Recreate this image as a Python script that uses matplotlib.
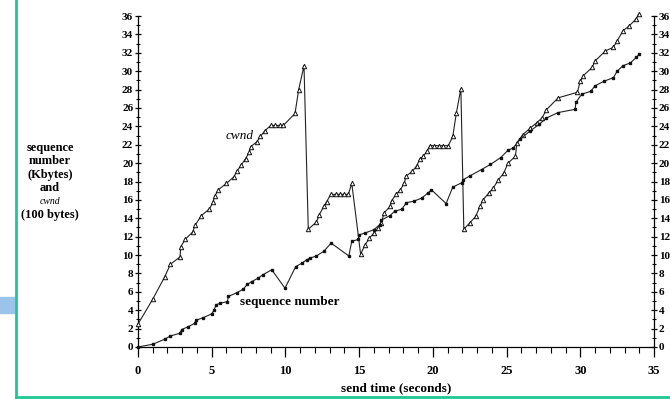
import matplotlib.pyplot as plt
from matplotlib.ticker import MultipleLocator
from matplotlib.lines import Line2D
from matplotlib.patches import Rectangle

# cwnd trace (100 bytes)
cwnd_t = [0, 1.0, 1.8, 2.2, 2.85, 2.9, 3.2, 3.7, 3.9, 4.3, 4.84, 5.1, 5.2, 5.45,
          6.0, 6.5, 6.7, 7.0, 7.3, 7.55, 7.65, 8.05, 8.3, 8.6, 9.0, 9.3, 9.6, 9.86,
          10.65, 10.9, 11.26, 11.55, 12.1, 12.3, 12.6, 12.8, 13.07, 13.4, 13.7, 14.0,
          14.27, 14.5, 15.1, 15.4, 15.7, 16.0, 16.3, 16.5, 16.7, 17.1, 17.2, 17.5,
          17.8, 18.05, 18.2, 18.6, 18.9, 19.1, 19.35, 19.6, 19.8, 20.1, 20.4, 20.7,
          21.05, 21.35, 21.6, 21.9, 22.1, 22.5, 22.9, 23.2, 23.4, 23.8, 24.1, 24.45,
          24.8, 25.1, 25.6, 25.7, 26.1, 26.6, 27.05, 27.4, 27.7, 28.5, 29.8, 30.0,
          30.2, 30.8, 31.0, 31.7, 32.25, 32.5, 32.9, 33.3, 33.8, 33.95]
cwnd_v = [2.5, 5.2, 7.6, 9.0, 9.8, 10.9, 11.7, 12.5, 13.3, 14.3, 15.0, 15.8, 16.4, 17.1,
          17.8, 18.5, 19.1, 19.8, 20.5, 21.2, 21.8, 22.3, 22.9, 23.5, 24.1, 24.1, 24.1, 24.1,
          25.4, 28.0, 30.6, 12.8, 13.6, 14.4, 15.3, 15.8, 16.6, 16.6, 16.6, 16.6,
          16.6, 17.8, 10.1, 11.1, 11.85, 12.4, 12.9, 13.5, 14.6, 15.3, 15.9, 16.6,
          17.1, 17.8, 18.6, 19.1, 19.7, 20.4, 20.75, 21.3, 21.9, 21.9, 21.9, 21.9,
          21.9, 22.9, 25.5, 28.1, 12.8, 13.5, 14.2, 15.3, 16.0, 16.75, 17.3, 18.2,
          18.9, 20.0, 20.75, 22.2, 23.1, 23.8, 24.4, 24.9, 25.8, 27.1, 27.7, 28.9,
          29.5, 30.4, 31.1, 32.2, 32.6, 33.3, 34.4, 34.9, 35.7, 36.2]

# sequence number (Kbytes)
seq_t = [0, 1.0, 1.8, 2.2, 2.85, 2.96, 3.4, 3.87, 3.93, 4.43, 5.0, 5.15, 5.3, 5.56,
         6.06, 6.13, 6.7, 7.15, 7.4, 7.7, 8.16, 8.46, 9.07, 9.97, 10.7, 11.1, 11.45,
         11.67, 12.1, 12.6, 13.1, 14.3, 14.5, 14.95, 15.0, 15.4, 16.0, 16.4, 16.5,
         17.1, 17.4, 17.9, 18.2, 18.7, 19.25, 19.7, 19.9, 20.9, 21.35, 21.95, 22.07,
         22.5, 23.3, 23.9, 24.6, 25.1, 25.45, 25.9, 26.6, 27.2, 27.7, 28.5, 29.65,
         29.7, 30.1, 30.7, 31.0, 31.6, 32.25, 32.5, 32.9, 33.4, 33.8, 34.0]
seq_v = [0, 0.3, 0.84, 1.2, 1.5, 1.9, 2.2, 2.6, 2.9, 3.2, 3.6, 4.0, 4.6, 4.75,
         4.94, 5.5, 5.9, 6.3, 6.8, 7.1, 7.5, 7.85, 8.4, 6.4, 8.75, 9.1, 9.5,
         9.67, 9.9, 10.4, 11.3, 9.9, 11.5, 11.7, 12.2, 12.4, 12.76, 13.3, 13.8,
         14.3, 14.75, 15.0, 15.7, 15.85, 16.2, 16.8, 17.1, 15.6, 17.4, 17.85, 18.2,
         18.6, 19.3, 19.85, 20.6, 21.4, 21.65, 22.6, 23.5, 24.2, 24.9, 25.5, 25.85,
         26.6, 27.5, 27.8, 28.4, 28.9, 29.3, 30.0, 30.6, 30.9, 31.5, 31.85]

ylabel_lines = ['sequence', 'number', '(Kbytes)', 'and', 'cwnd', '(100 bytes)']

plt.rcParams['font.family'] = ['Liberation Serif', 'DejaVu Serif']

fig = plt.figure(figsize=(6.7, 3.99), dpi=100)
ax = fig.add_axes([138 / 670, 52 / 399, 516 / 670, 331 / 399])

ax.plot(cwnd_t, cwnd_v, color='#222222', lw=0.8, marker='^', ms=3.2,
        mfc='white', mec='#111111', mew=0.7, clip_on=False, zorder=3)
ax.plot(seq_t, seq_v, color='#222222', lw=0.8, marker='s', ms=1.6,
        mfc='#111111', mec='#111111', clip_on=False, zorder=3)

ax.text(6.9, 23.0, 'cwnd', style='italic', fontsize=9.5, ha='center', va='center')
ax.text(6.92, 4.94, 'sequence number', fontsize=9.5, fontweight='bold',
        ha='left', va='center')

ax.set_xlim(0, 35)
ax.set_ylim(0, 36)
ax.xaxis.set_major_locator(MultipleLocator(5))
ax.xaxis.set_minor_locator(MultipleLocator(1))
ax.yaxis.set_major_locator(MultipleLocator(2))
ax.yaxis.set_minor_locator(MultipleLocator(1))
ax.spines['top'].set_visible(False)
for s in ['left', 'right', 'bottom']:
    ax.spines[s].set_linewidth(0.9)

ax.tick_params(axis='x', which='major', direction='out', length=7, width=0.9,
               labelsize=9, pad=6)
ax.tick_params(axis='x', which='minor', direction='out', length=4, width=0.8)
ax.tick_params(axis='y', which='major', direction='inout', length=5, width=0.9,
               labelsize=8, right=True, labelright=True, pad=1)
ax.tick_params(axis='y', which='minor', direction='inout', length=3, width=0.8, right=True)
for lab in ax.get_xticklabels() + ax.get_yticklabels():
    lab.set_fontweight('bold')

ax.set_xlabel('send time (seconds)', fontsize=9.5, fontweight='bold', labelpad=4)

y0 = 399 - 148
for i, line in enumerate(ylabel_lines):
    if line == 'cwnd':
        fig.text(50 / 670, (y0 - 13.4 * i) / 399, line, style='italic', fontsize=7,
                 ha='center', va='center')
    else:
        fig.text(50 / 670, (y0 - 13.4 * i) / 399, line, fontsize=9, fontweight='bold',
                 ha='center', va='center')

# page frame bits around the scanned figure
fig.add_artist(Line2D([16 / 670, 16 / 670], [2 / 399, 1], color='#1cc996', lw=2))
fig.add_artist(Line2D([16 / 670, 1], [2 / 399, 2 / 399], color='#1cc996', lw=2))
fig.add_artist(Rectangle((0, 86 / 399), 15 / 670, 16 / 399, color='#9cc3ea',
                         transform=fig.transFigure))

fig.savefig('out.png', dpi=100)
